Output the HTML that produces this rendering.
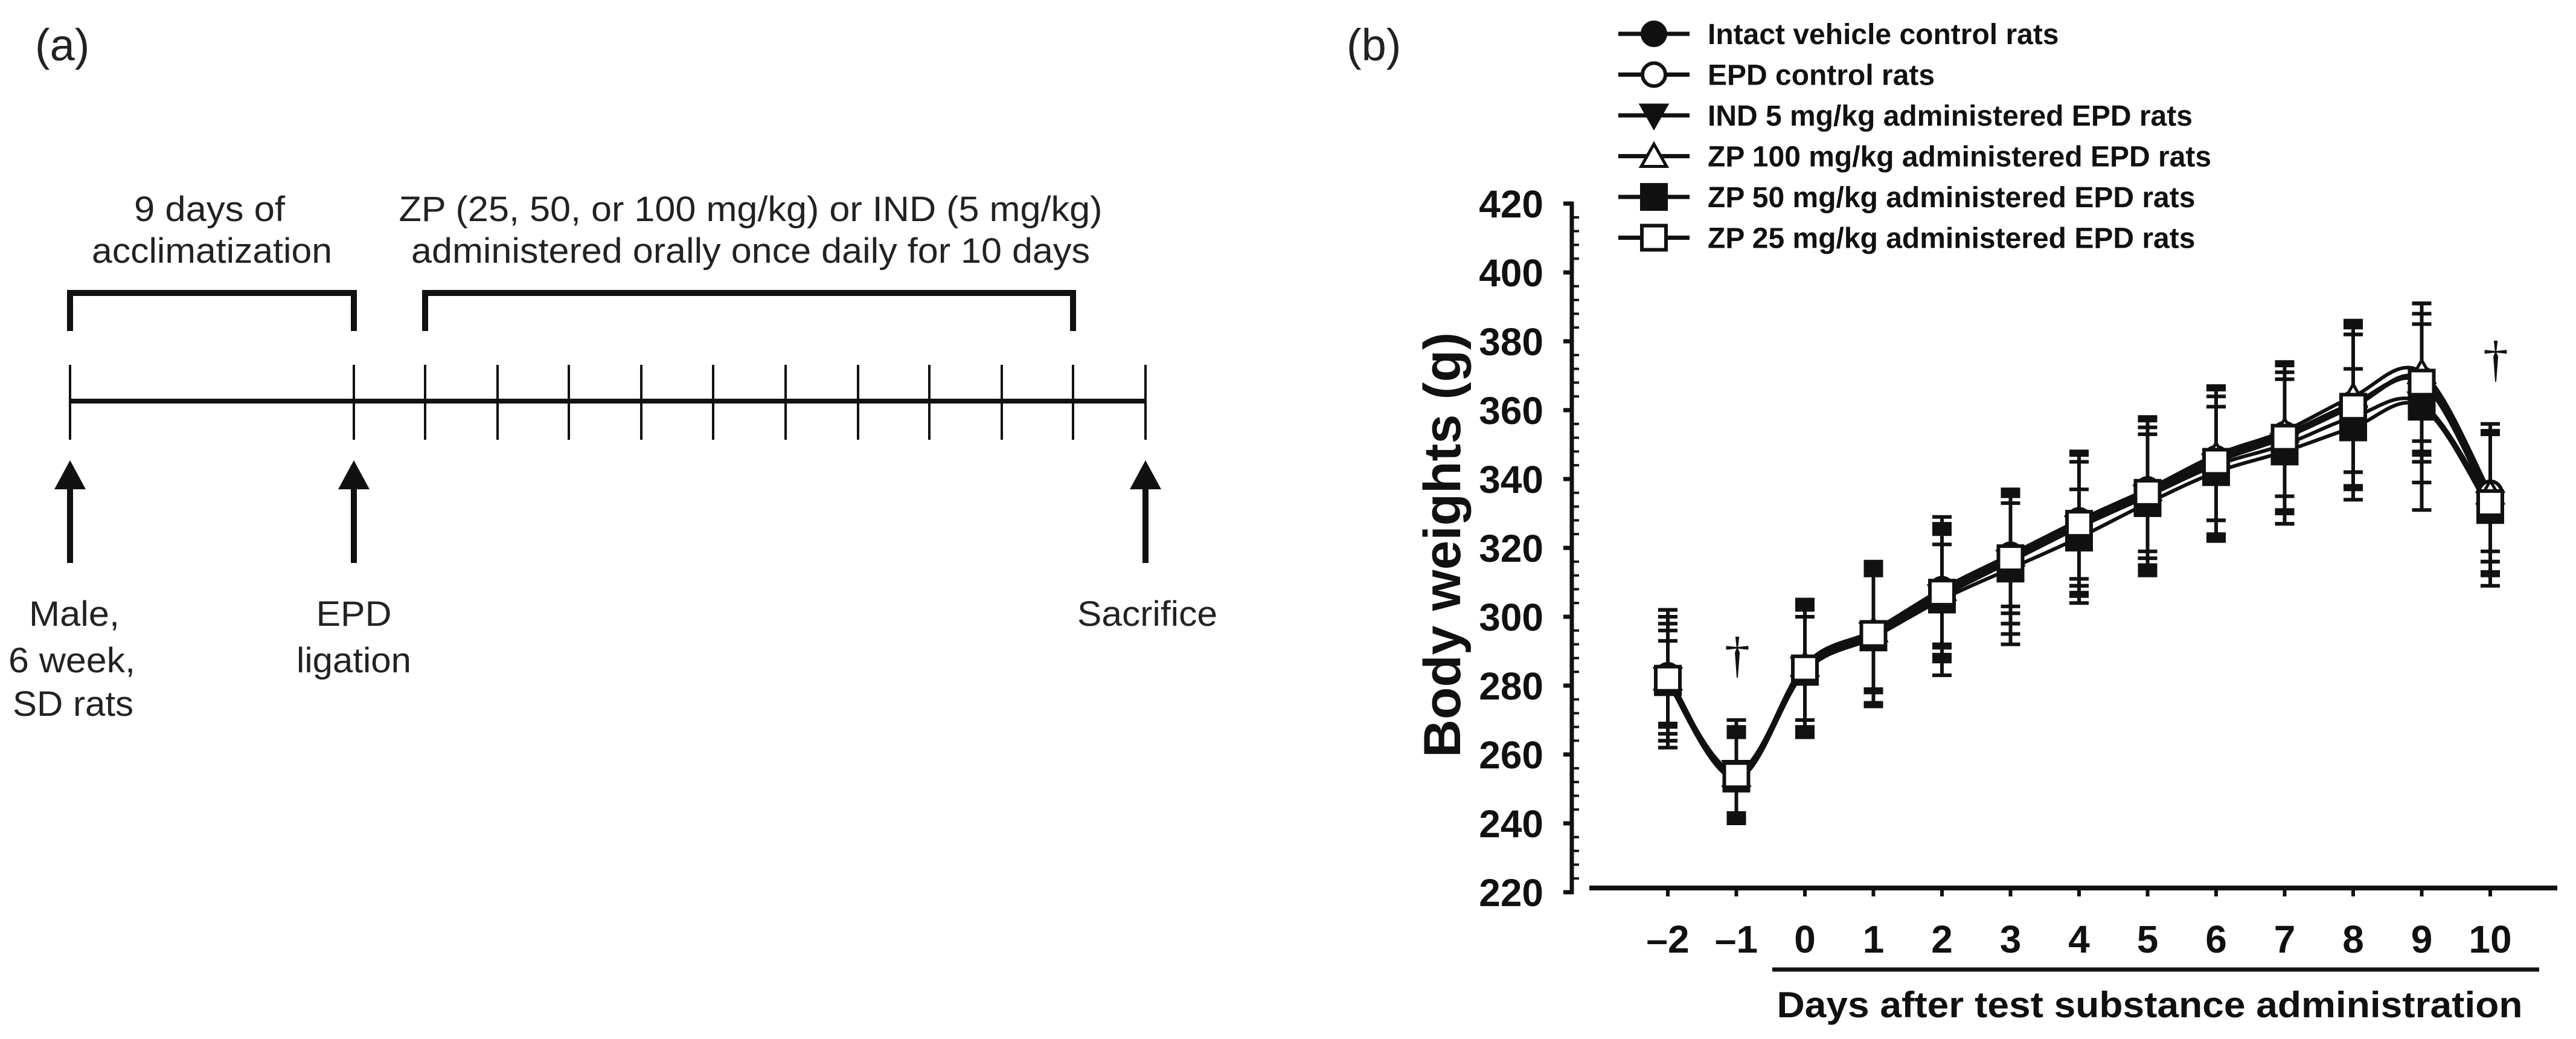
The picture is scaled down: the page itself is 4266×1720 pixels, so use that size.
<!DOCTYPE html>
<html><head><meta charset="utf-8"><title>Body weights figure</title>
<style>html,body{margin:0;padding:0;background:#fff}svg{display:block}</style></head>
<body>
<svg id="fig" xmlns="http://www.w3.org/2000/svg" width="4266" height="1720" viewBox="0 0 4266 1720">
<g id="panelA" font-family="'Liberation Sans', sans-serif" fill="#222">
  <text x="58" y="100" font-size="74">(a)</text>
  <text x="347" y="366" font-size="58" text-anchor="middle" textLength="250" lengthAdjust="spacingAndGlyphs">9 days of</text>
  <text x="351" y="435" font-size="58" text-anchor="middle" textLength="398" lengthAdjust="spacingAndGlyphs">acclimatization</text>
  <text x="1243" y="366" font-size="58" text-anchor="middle" textLength="1165" lengthAdjust="spacingAndGlyphs">ZP (25, 50, or 100 mg/kg) or IND (5 mg/kg)</text>
  <text x="1243" y="435" font-size="58" text-anchor="middle" textLength="1124" lengthAdjust="spacingAndGlyphs">administered orally once daily for 10 days</text>
  <path d="M116,548 V485 H586 V548" fill="none" stroke="#111" stroke-width="10"/>
  <path d="M704,548 V485 H1777 V548" fill="none" stroke="#111" stroke-width="10"/>
  <line x1="116" y1="664" x2="1897" y2="664" stroke="#111" stroke-width="8"/>
  <g id="tlTicks"></g>
  <g id="tlArrows"></g>
  <text x="123" y="1036" font-size="58" text-anchor="middle" textLength="150" lengthAdjust="spacingAndGlyphs">Male,</text>
  <text x="119" y="1113" font-size="58" text-anchor="middle" textLength="210" lengthAdjust="spacingAndGlyphs">6 week,</text>
  <text x="121" y="1185" font-size="58" text-anchor="middle" textLength="200" lengthAdjust="spacingAndGlyphs">SD rats</text>
  <text x="586" y="1036" font-size="58" text-anchor="middle" textLength="125" lengthAdjust="spacingAndGlyphs">EPD</text>
  <text x="586" y="1113" font-size="58" text-anchor="middle" textLength="190" lengthAdjust="spacingAndGlyphs">ligation</text>
  <text x="1900" y="1036" font-size="58" text-anchor="middle" textLength="232" lengthAdjust="spacingAndGlyphs">Sacrifice</text>
</g>
<g id="panelB" font-family="'Liberation Sans', sans-serif">
  <text x="2230" y="100" font-size="74" fill="#222">(b)</text>
  <g id="axes"></g>
  <g id="series"></g>
  <g id="legend"></g>
  <text x="0" y="0" font-size="86" font-weight="bold" text-anchor="middle" fill="#111" transform="translate(2418,902) rotate(-90)" textLength="704" lengthAdjust="spacingAndGlyphs">Body weights (g)</text>
  <line x1="2935" y1="1605" x2="4205" y2="1605" stroke="#111" stroke-width="7"/>
  <text x="3560" y="1684" font-size="60" font-weight="bold" text-anchor="middle" fill="#111" textLength="1235" lengthAdjust="spacingAndGlyphs">Days after test substance administration</text>
  <text x="2877" y="1112" font-size="84" text-anchor="middle" fill="#111" font-family="'Liberation Serif', serif">†</text>
  <text x="4133" y="622" font-size="84" text-anchor="middle" fill="#111" font-family="'Liberation Serif', serif">†</text>
</g>
</svg>
<script>
// ---- timeline (panel a) ----
const tlTickX = [116,586,704,824,942,1062,1181,1301,1421,1539,1659,1777,1897];
const tlArrowX = [116,586,1897];
const NS = 'http://www.w3.org/2000/svg';
const tlT = document.getElementById('tlTicks');
tlTickX.forEach((x,i)=>{
  const l = document.createElementNS(NS,'line');
  
  
  l.setAttribute('x1',x);l.setAttribute('x2',x);l.setAttribute('y1',604);l.setAttribute('y2',728);
  l.setAttribute('stroke','#111');l.setAttribute('stroke-width',4);
  tlT.appendChild(l);
});
const tlA = document.getElementById('tlArrows');
tlArrowX.forEach(x=>{
  const p = document.createElementNS(NS,'path');
  
  
  p.setAttribute('d',`M${x},762 L${x+26},810 L${x+5},810 L${x+5},932 L${x-5},932 L${x-5},810 L${x-26},810 Z`);
  p.setAttribute('fill','#111');
  tlA.appendChild(p);
});

// ---- chart data (panel b) ----
const days = [-2,-1,0,1,2,3,4,5,6,7,8,9,10];
const yTicks = [220,240,260,280,300,320,340,360,380,400,420];
const seriesNames = ['Intact vehicle control rats','EPD control rats','IND 5 mg/kg administered EPD rats','ZP 100 mg/kg administered EPD rats','ZP 50 mg/kg administered EPD rats','ZP 25 mg/kg administered EPD rats'];
const intactMean = [282,254,285,295,308,318,328,337,346,353,362,368,335];
const epdMean    = [283,254,285,295,307,317,327,336,345,352,361,369,336];
const indMean    = [282,255,285,295,306,316,326,335,344,350,358,362,333];
const zp100Mean  = [282,254,286,296,308,318,328,337,347,354,364,371,336];
const zp50Mean   = [281,253,284,294,305,314,323,333,342,348,355,361,331];
const zp25Mean   = [282,254,285,295,307,317,327,336,345,352,361,368,333];
const intactSD = [14,11,15,17,16,15,17,18,18,18,20,20,19];
const epdSD    = [19,13,18,20,20,19,21,22,22,22,24,22,20];
const indSD    = [20,15,20,21,23,21,22,23,22,23,24,23,21];
const zp100SD  = [16,12,16,17,17,17,19,20,19,19,22,20,17];
const zp50SD   = [12,13,16,20,16,22,14,20,19,21,17,30,22];
const zp25SD   = [18,14,19,20,19,19,20,21,21,21,23,23,20];

const means = [intactMean,epdMean,indMean,zp100Mean,zp50Mean,zp25Mean];
const sds = [intactSD,epdSD,indSD,zp100SD,zp50SD,zp25SD];
const markers = ['circle-filled','circle-open','tri-down-filled','tri-up-open','square-filled','square-open'];
const keys = ['intact','epd','ind5','zp100','zp50','zp25'];

const xScale = d => 2762 + (d - (-2)) * 113.5;
const yScale = v => 1477 - (v - 220) * (1140/200);

function el(tag, attrs, parent){
  const e = document.createElementNS(NS, tag);
  for (const k in attrs) e.setAttribute(k, attrs[k]);
  parent.appendChild(e);
  return e;
}
function drawMarker(type, x, y, parent, name){
  let e;
  const fill = type.includes('filled') ? '#111' : '#fff';
  if (type.startsWith('circle')) {
    e = el('circle',{cx:x,cy:y,r:19,fill:fill,stroke:'#111','stroke-width':6},parent);
  } else if (type.startsWith('square')) {
    e = el('rect',{x:x-20,y:y-20,width:40,height:40,fill:fill,stroke:'#111','stroke-width':6},parent);
  } else if (type.startsWith('tri-down')) {
    e = el('path',{d:`M${x-21},${y-17} L${x+21},${y-17} L${x},${y+20} Z`,fill:fill,stroke:'#111','stroke-width':5},parent);
  } else {
    e = el('path',{d:`M${x-21},${y+17} L${x+21},${y+17} L${x},${y-20} Z`,fill:fill,stroke:'#111','stroke-width':5},parent);
  }
  
  
  return e;
}

// axes
const ax = document.getElementById('axes');
const yAxis = el('line',{x1:2603,y1:yScale(420)-3,x2:2603,y2:yScale(220)+3,stroke:'#111','stroke-width':7},ax);


for (let v=224; v<420; v+=4){
  if ((v-220)%20===0) continue;
  const t = el('line',{x1:2603,x2:2615,y1:yScale(v),y2:yScale(v),stroke:'#111','stroke-width':4},ax);
  
  
}
yTicks.forEach(v=>{
  const t = el('line',{x1:2589,x2:2606,y1:yScale(v),y2:yScale(v),stroke:'#111','stroke-width':7},ax);
  
  
  const lb = el('text',{x:2556,y:yScale(v)+23,'font-size':64,'font-weight':'bold','text-anchor':'end',fill:'#111'},ax);
  lb.textContent = v;
  
  
});
const xAxis = el('line',{x1:2632,y1:1470,x2:4235,y2:1470,stroke:'#111','stroke-width':8},ax);


days.forEach(d=>{
  const t = el('line',{x1:xScale(d),x2:xScale(d),y1:1470,y2:1484,stroke:'#111','stroke-width':6},ax);
  
  
  const lb = el('text',{x:xScale(d),y:1577,'font-size':64,'font-weight':'bold','text-anchor':'middle',fill:'#111'},ax);
  lb.textContent = d<0 ? '\u2013'+(-d) : d;
  
  
});

// series
function smoothPath(pts){
  let d = `M${pts[0][0]},${pts[0][1]}`;
  for (let i=0;i<pts.length-1;i++){
    const p0 = pts[Math.max(0,i-1)], p1 = pts[i], p2 = pts[i+1], p3 = pts[Math.min(pts.length-1,i+2)];
    const t = 0.17;
    const c1x = p1[0] + (p2[0]-p0[0])*t, c1y = p1[1] + (p2[1]-p0[1])*t;
    const c2x = p2[0] - (p3[0]-p1[0])*t, c2y = p2[1] - (p3[1]-p1[1])*t;
    d += ` C${c1x},${c1y} ${c2x},${c2y} ${p2[0]},${p2[1]}`;
  }
  return d;
}
const sg = document.getElementById('series');
means.forEach((m,si)=>{
  const g = el('g',{},sg);
  
  
  m.forEach((v,i)=>{
    const x = xScale(days[i]), s = sds[si][i];
    const eb = el('path',{d:`M${x},${yScale(v+s)} V${yScale(v-s)} M${x-16},${yScale(v+s)} H${x+16} M${x-16},${yScale(v-s)} H${x+16}`,stroke:'#111','stroke-width':6,fill:'none'},g);
    
    
  });
});
means.forEach((m,si)=>{
  const pts = m.map((v,i)=>[xScale(days[i]), yScale(v)]);
  const ln = el('path',{d:smoothPath(pts),fill:'none',stroke:'#111','stroke-width':6},sg);
  
  
});
means.forEach((m,si)=>{
  m.forEach((v,i)=>{
    drawMarker(markers[si], xScale(days[i]), yScale(v), sg, 'point-'+keys[si]);
  });
});

// legend
const lg = document.getElementById('legend');
seriesNames.forEach((n,i)=>{
  const y = 56 + i*67.5;
  const g = el('g',{},lg);
  
  
  const l = el('line',{x1:2680,x2:2798,y1:y,y2:y,stroke:'#111','stroke-width':7},g);
  
  
  drawMarker(markers[i], 2739, y, g, 'legend-marker');
  const t = el('text',{x:2828,y:y+17,'font-size':48,'font-weight':'bold',fill:'#111'},g);
  t.textContent = n;
  
  
});
</script>
</body></html>
